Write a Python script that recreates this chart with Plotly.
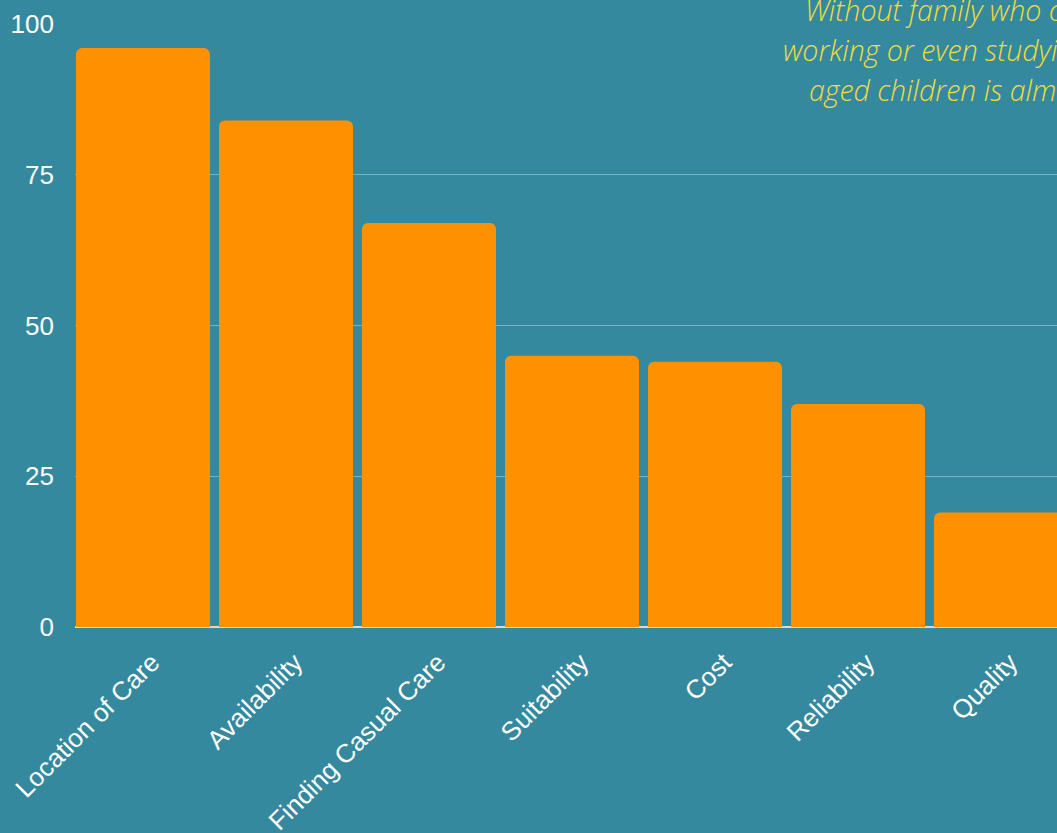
import plotly.graph_objects as go

categories = ["Location of Care", "Availability", "Finding Casual Care", "Suitability",
              "Cost", "Reliability", "Quality"]
values = [96, 84, 67, 45, 44, 37, 19]
y_ticks = [0, 25, 50, 75, 100]
note_lines = ["Without family who can help out,",
              "working or even studying with school-",
              "aged children is almost impossible."]

BG = "#35899F"
BAR = "#FF9100"
YELLOW = "#F0DC3C"

W, H = 1057, 833
ML, MR, MT, MB = 75, 0, 24, 206
pw = W - ML - MR
ph = H - MT - MB

fig = go.Figure(go.Bar(x=categories, y=values, marker=dict(color=BAR, line=dict(width=0)),
                       hoverinfo="x+y"))

# annotation lines: left pixel start and vertical center in pixels
line_x = [803, 781, 807]
line_y = [10, 50, 90]
for txt, px, py in zip(note_lines, line_x, line_y):
    fig.add_annotation(
        text=txt, xref="paper", yref="paper",
        x=(px - ML) / pw, y=(H - MB - py) / ph,
        xanchor="left", yanchor="middle", showarrow=False,
        font=dict(family="Open Sans", size=28.5, color=YELLOW, style="italic", weight=300),
    )

fig.update_layout(
    width=W, height=H,
    margin=dict(l=ML, r=MR, t=MT, b=MB, pad=0, autoexpand=False),
    paper_bgcolor=BG, plot_bgcolor=BG,
    bargap=0.063,
    barcornerradius=6,
    showlegend=False,
    font=dict(family="Liberation Sans, Arial, sans-serif", color="white", size=26),
    xaxis=dict(range=[-0.4755, 6.3916], tickangle=-45, showgrid=False, showline=False,
               zeroline=False, ticks="", ticklabelstandoff=14, ticklabelshift=9,
               automargin=False, tickfont=dict(size=26, color="white")),
    yaxis=dict(range=[0, 100], tickvals=y_ticks, ticktext=[str(v) for v in y_ticks],
               showgrid=True, gridcolor="rgba(255,255,255,0.35)", gridwidth=1,
               zeroline=True, zerolinecolor="#D8D8D8", zerolinewidth=1.5,
               showline=False, ticks="", ticklabelstandoff=20, automargin=False,
               tickfont=dict(size=26, color="white")),
)

fig.write_html("out.html", config={"displayModeBar": False},
               post_script="document.body.style.margin='0';document.body.style.overflow='hidden';")
